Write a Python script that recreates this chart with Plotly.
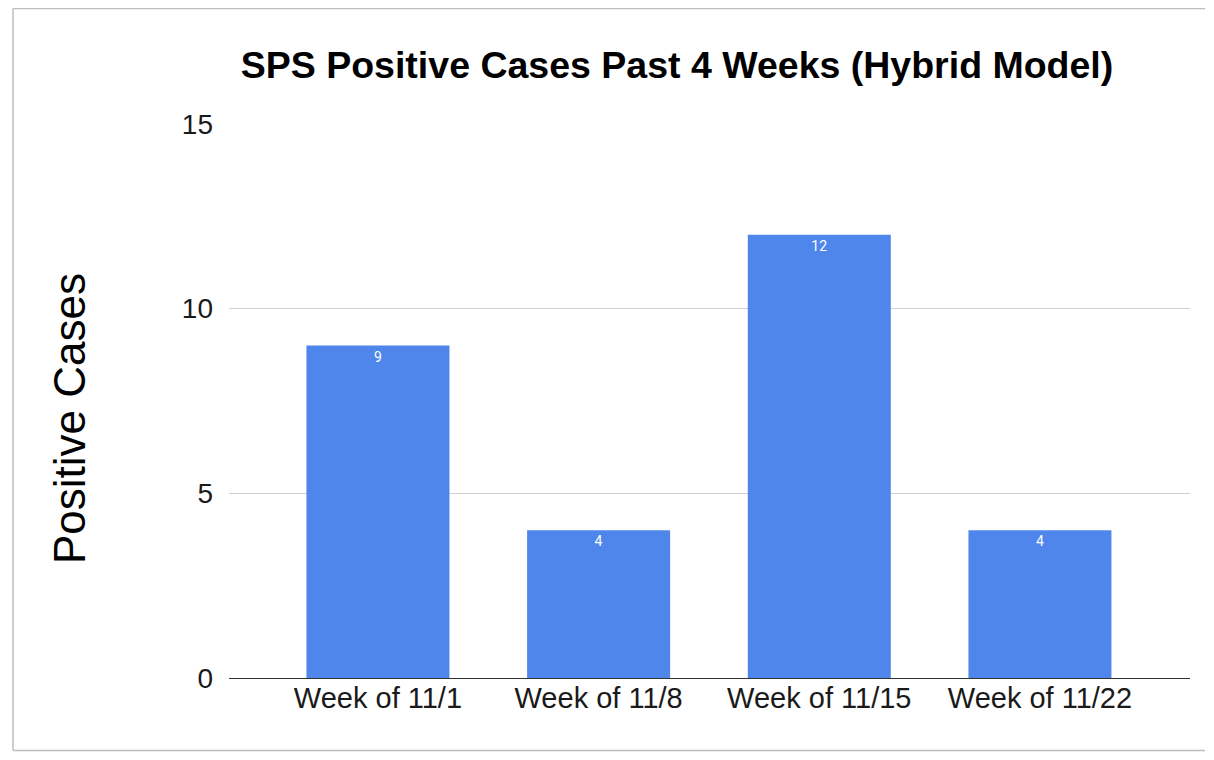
import plotly.graph_objects as go

categories = ["Week of 11/1", "Week of 11/8", "Week of 11/15", "Week of 11/22"]
cases = [9, 4, 12, 4]
y_ticks = [0, 5, 10, 15]

# plot area in figure pixels (page adds an 8px body margin)
W, H = 1198, 744
L, T = 221, 116
R = W - 1182
B = H - 670
PW, PH = W - L - R, H - T - B

fig = go.Figure()
fig.add_trace(go.Bar(
    x=list(range(len(categories))),
    y=cases,
    marker=dict(color="#4f86ec", line=dict(width=0)),
    width=0.648,
    text=[str(v) for v in cases],
    textposition="inside",
    insidetextanchor="end",
    textfont=dict(color="white", size=14, family="Roboto, Arial, sans-serif"),
))

fig.update_layout(
    width=W, height=H,
    margin=dict(l=L, r=R, t=T, b=B),
    paper_bgcolor="white", plot_bgcolor="white",
    showlegend=False,
    font=dict(family="Liberation Sans, Arial, sans-serif", color="#000000"),
    title=dict(text="<b>SPS Positive Cases Past 4 Weeks (Hybrid Model)</b>",
               x=669 / W, xanchor="center", y=1 - 57 / H, yanchor="middle",
               font=dict(size=37.5, color="#000000")),
)
fig.update_xaxes(
    range=[-0.675, 3.68],
    tickmode="array", tickvals=list(range(len(categories))), ticktext=categories,
    tickfont=dict(size=29, color="#1a1a1a"),
    showgrid=False, zeroline=False, showline=False, ticks="",
)
fig.update_yaxes(
    range=[0, 15],
    tickmode="array", tickvals=y_ticks, ticktext=[str(t) for t in y_ticks],
    tickfont=dict(size=28, color="#1a1a1a"),
    showgrid=True, gridcolor="#cfcfcf", gridwidth=1,
    zeroline=True, zerolinecolor="#333333", zerolinewidth=1,
    showline=False, ticks="", ticklabelstandoff=15,
)
fig.add_annotation(
    text="Positive Cases", textangle=-90, showarrow=False,
    xref="paper", yref="paper",
    x=(61 - L) / PW, y=(H - B - 411) / PH, xanchor="center", yanchor="middle",
    font=dict(size=44, color="#000000"),
)
# chart border: left, top and bottom
bx0 = (5 - L) / PW
bx1 = (W - 1 - L) / PW
by0 = (H - B - (H - 1.5)) / PH
by1 = (H - B - 0.5) / PH
for x0, y0, x1, y1 in [(bx0, by0, bx0, by1), (bx0, by1, bx1, by1), (bx0, by0, bx1, by0)]:
    fig.add_shape(type="line", xref="paper", yref="paper",
                  x0=x0, y0=y0, x1=x1, y1=y1,
                  line=dict(color="#bdbdbd", width=1.5), layer="below")

fig.write_html("out.html")
